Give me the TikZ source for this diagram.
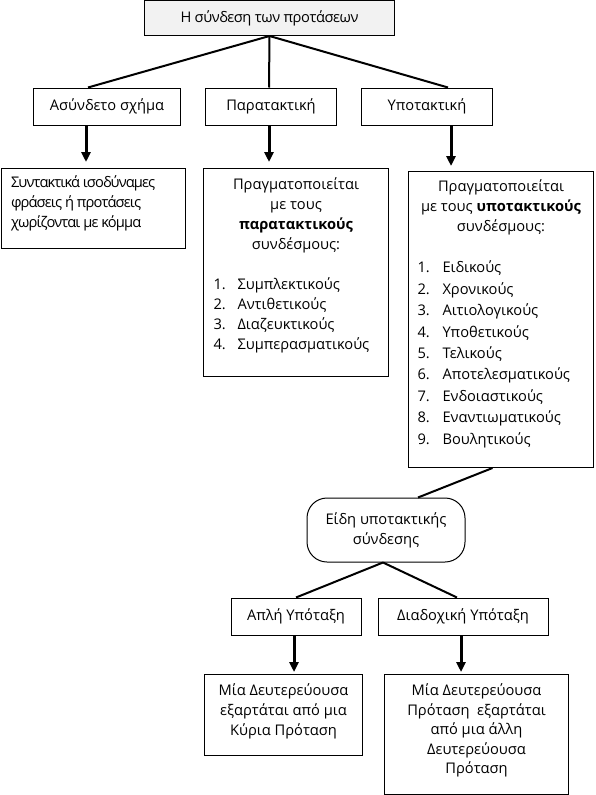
\documentclass[tikz,border=0pt]{standalone}
\usepackage{fontspec}
\setmainfont{Open Sans}
\usetikzlibrary{arrows.meta}
\definecolor{titlegray}{RGB}{242,242,242}

\begin{document}
\begin{tikzpicture}[x=1pt,y=-1pt,
  every node/.style={font=\fontsize{14.67}{20}\selectfont},
  box/.style={draw,line width=1pt,inner sep=0pt},
  link/.style={line width=2pt},
  down/.style={line width=3pt,-{Triangle[length=10pt,width=9pt]}}]
\useasboundingbox (0,0) rectangle (596,795);
\node[box,fill=titlegray,minimum width=250,minimum height=35] (title) at (269.5,18) {\addfontfeature{LetterSpace=-3}Η σύνδεση των προτάσεων};
\node[box,minimum width=147,minimum height=37] (asyn) at (107,106.5) {Ασύνδετο σχήμα};
\node[box,minimum width=131,minimum height=37] (para) at (271,106.5) {Παρατακτική};
\node[box,minimum width=131,minimum height=37] (ypo) at (427,106.5) {Υποτακτική};
\node[box,anchor=north west,inner xsep=10pt,inner ysep=5pt] (asyntext) at (0.5,168)
  {\parbox[c][70pt][t]{164.5pt}{\addfontfeature{LetterSpace=-6}\strut Συντακτικά ισοδύναμες\\ φράσεις ή προτάσεις\\ χωρίζονται με κόμμα}};
\node[box,anchor=north west,inner xsep=10pt,inner ysep=7pt] (paratext) at (203,168)
  {\parbox[c][194pt][t]{165pt}{{\centering\strut Πραγματοποιείται\\ με τους\\ \textbf{παρατακτικούς}\\ συνδέσμους:\par}
  \vspace{20pt}
  \makebox[24pt][l]{1.}Συμπλεκτικούς\\
  \makebox[24pt][l]{2.}Αντιθετικούς\\
  \makebox[24pt][l]{3.}Διαζευκτικούς\\
  \makebox[24pt][l]{4.}Συμπερασματικούς}};
\node[box,anchor=north west,inner xsep=9pt,inner ysep=6pt] (ypotext) at (408,171)
  {\parbox[c][284pt][t]{167pt}{{\centering\strut Πραγματοποιείται\\ με τους \textbf{υποτακτικούς}\\ συνδέσμους:\par}
  \vspace{20pt}
  \fontsize{14.67}{21.4}\selectfont
  \makebox[25pt][l]{1.}Ειδικούς\\
  \makebox[25pt][l]{2.}Χρονικούς\\
  \makebox[25pt][l]{3.}Αιτιολογικούς\\
  \makebox[25pt][l]{4.}Υποθετικούς\\
  \makebox[25pt][l]{5.}Τελικούς\\
  \makebox[25pt][l]{6.}Αποτελεσματικούς\\
  \makebox[25pt][l]{7.}Ενδοιαστικούς\\
  \makebox[25pt][l]{8.}Εναντιωματικούς\\
  \makebox[25pt][l]{9.}Βουλητικούς}};
\node[box,rounded corners=20pt,minimum width=158,minimum height=64,align=center] (eidi) at (386,530) {Είδη υποτακτικής\\σύνδεσης};
\node[box,minimum width=130,minimum height=37] (apli) at (296,616.5) {Απλή Υπόταξη};
\node[box,minimum width=170,minimum height=37] (diad) at (463,616.5) {Διαδοχική Υπόταξη};
\node[box,anchor=north west,inner xsep=5pt,inner ysep=7pt] (aplitext) at (204,674)
  {\parbox[c][67pt][t]{148pt}{\centering\strut Μία Δευτερεύουσα\\ εξαρτάται από μια\\ Κύρια Πρόταση}};
\node[box,anchor=north west,inner xsep=5pt,inner ysep=7pt] (diadtext) at (384,674)
  {\parbox[c][106pt][t]{174pt}{\centering\baselineskip=19.5pt\strut Μία Δευτερεύουσα\\ Πρόταση~ εξαρτάται\\ από μια άλλη\\ Δευτερεύουσα\\ Πρόταση}};
\draw[link] (title.south) -- ([xshift=-19pt]asyn.north);
\draw[link] (title.south) -- ([xshift=-2pt]para.north);
\draw[link] (title.south) -- ([xshift=21pt]ypo.north);
\draw[down] ([xshift=-21pt]asyn.south) -- ([xshift=85.5pt,yshift=6pt]asyntext.north west);
\draw[down] ([xshift=-2pt]para.south) -- ([xshift=66pt,yshift=6pt]paratext.north west);
\draw[down] ([xshift=24pt]ypo.south) -- ([xshift=43pt,yshift=5pt]ypotext.north west);
\draw[link] ([xshift=-8.5pt]ypotext.south) -- ([xshift=32pt]eidi.north);
\draw[link] ([xshift=-3pt]eidi.south) -- (apli.north);
\draw[link] ([xshift=-3pt]eidi.south) -- ([xshift=-6pt]diad.north);
\draw[down] ([xshift=-2pt]apli.south) -- ([xshift=90pt,yshift=2pt]aplitext.north west);
\draw[down] ([xshift=-2pt]diad.south) -- ([xshift=77pt,yshift=2pt]diadtext.north west);
\end{tikzpicture}
\end{document}
